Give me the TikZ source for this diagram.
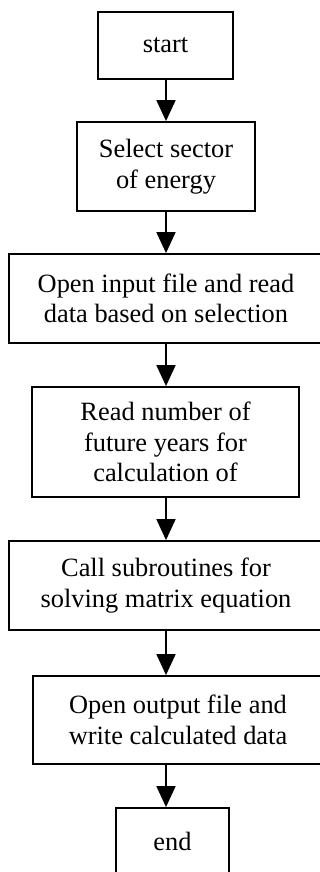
\documentclass[tikz,border=0pt]{standalone}
\usepackage{fontspec}
\setmainfont{Liberation Serif}
\usetikzlibrary{arrows.meta}
\begin{document}
\begin{tikzpicture}[x=1pt,y=-1pt,
  box/.style={draw, line width=1.8pt, rectangle, align=center, inner sep=0pt,
              font=\fontsize{26.4}{30.5}\selectfont},
  arr/.style={line width=1.8pt, -{Triangle[width=19pt,length=21pt]}}]
\useasboundingbox (0,0) rectangle (320,872);
\clip (0,0) rectangle (320,872);
% main column of the flow
\coordinate (axis) at (166,0);
\node[box, minimum width=135pt, minimum height=67pt] (start) at (165.5,45.5) {start};
\node[box, minimum width=178pt, minimum height=89pt] (sel) at (166,166.5) {Select sector\\of energy};
\node[box, minimum width=314pt, minimum height=89pt] (inp) at (166,298.5) {Open input file and read\\data based on selection};
\node[box, minimum width=267pt, minimum height=110pt] (years) at (165.5,442) {Read number of\\future years for\\calculation of};
\node[box, minimum width=314pt, minimum height=89pt] (sub) at (166,585.5) {Call subroutines for\\solving matrix equation};
\node[box, minimum width=290pt, minimum height=88pt] (out) at (178,720) {Open output file and\\write calculated data};
\node[box, minimum width=113pt, minimum height=67pt] (end) at (172.5,841.5) {end};
% connectors
\draw[arr] (start.south -| axis) -- (sel.north -| axis);
\draw[arr] (sel.south -| axis) -- (inp.north -| axis);
\draw[arr] (inp.south -| axis) -- (years.north -| axis);
\draw[arr] (years.south -| axis) -- (sub.north -| axis);
\draw[arr] (sub.south -| axis) -- (out.north -| axis);
\draw[arr] (out.south -| axis) -- (end.north -| axis);
\end{tikzpicture}
\end{document}
